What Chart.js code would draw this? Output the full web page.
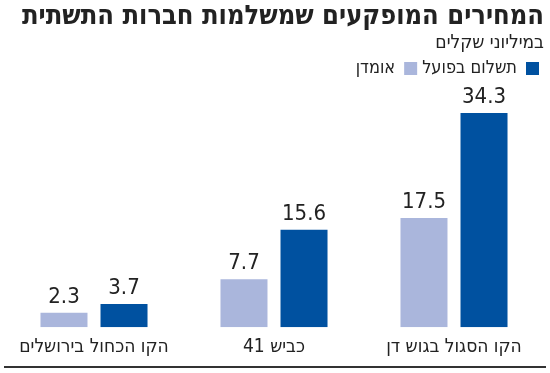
<!DOCTYPE html>
<html lang="he">
<head>
<meta charset="utf-8">
<script src="https://cdn.jsdelivr.net/npm/chart.js@4.4.1/dist/chart.umd.min.js"></script>
<style>
  html, body { margin: 0; padding: 0; background: #fff; }
  #wrap { width: 550px; height: 373px; }
</style>
</head>
<body>
<div id="wrap"><canvas id="chartCanvas" width="550" height="373"></canvas></div>
<script>
// --- data ---
const categories = ["הקו הכחול בירושלים", "כביש 41", "הקו הסגול בגוש דן"];
const estimate = [2.3, 7.7, 17.5];     // אומדן
const actualPaid = [3.7, 15.6, 34.3];  // תשלום בפועל

const FONT = "'DejaVu Sans Condensed', 'Liberation Sans', sans-serif";
const DARK = "#0051a0";
const LIGHT = "#aab6dc";

// value labels above bars
const valueLabels = {
  id: "valueLabels",
  afterDatasetsDraw(chart) {
    const ctx = chart.ctx;
    ctx.save();
    ctx.font = "22px " + FONT;
    ctx.fillStyle = "#222";
    ctx.textAlign = "center";
    ctx.textBaseline = "bottom";
    chart.data.datasets.forEach((ds, i) => {
      chart.getDatasetMeta(i).data.forEach((bar, j) => {
        ctx.fillText(ds.data[j].toFixed(1), bar.x, bar.y - 5);
      });
    });
    ctx.restore();
  }
};

// dark rule along the bottom
const bottomRule = {
  id: "bottomRule",
  afterDraw(chart) {
    const ctx = chart.ctx;
    ctx.save();
    ctx.fillStyle = "#333";
    ctx.fillRect(4, 366, 542, 2);
    ctx.restore();
  }
};

new Chart(document.getElementById("chartCanvas"), {
  type: "bar",
  data: {
    labels: categories,
    datasets: [
      { label: "אומדן", data: estimate, backgroundColor: LIGHT },
      { label: "תשלום בפועל", data: actualPaid, backgroundColor: DARK }
    ]
  },
  options: {
    responsive: false,
    animation: false,
    categoryPercentage: 0.667,
    barPercentage: 0.783,
    layout: { padding: { left: 4, right: 6, top: 0, bottom: 7 } },
    plugins: {
      title: {
        display: true,
        text: "המחירים המופקעים שמשלמות חברות התשתית",
        align: "end",
        color: "#222",
        font: { family: FONT, size: 27, weight: "bold", lineHeight: 1.1 },
        padding: { top: 2, bottom: 0 }
      },
      subtitle: {
        display: true,
        text: "במיליוני שקלים",
        align: "end",
        color: "#222",
        font: { family: FONT, size: 19, lineHeight: 1.2 },
        padding: { top: 0, bottom: 0 }
      },
      legend: {
        display: true,
        align: "start",
        rtl: true,
        reverse: true,
        labels: {
          boxWidth: 13,
          boxHeight: 13,
          padding: 5,
          color: "#222",
          font: { family: FONT, size: 18 }
        }
      },
      tooltip: { enabled: false }
    },
    scales: {
      x: {
        grid: { display: false, drawTicks: false },
        border: { display: false },
        ticks: { color: "#222", padding: 8, font: { family: FONT, size: 19 } }
      },
      y: {
        display: false,
        min: 0,
        max: 38.4
      }
    }
  },
  plugins: [valueLabels, bottomRule]
});
</script>
</body>
</html>
